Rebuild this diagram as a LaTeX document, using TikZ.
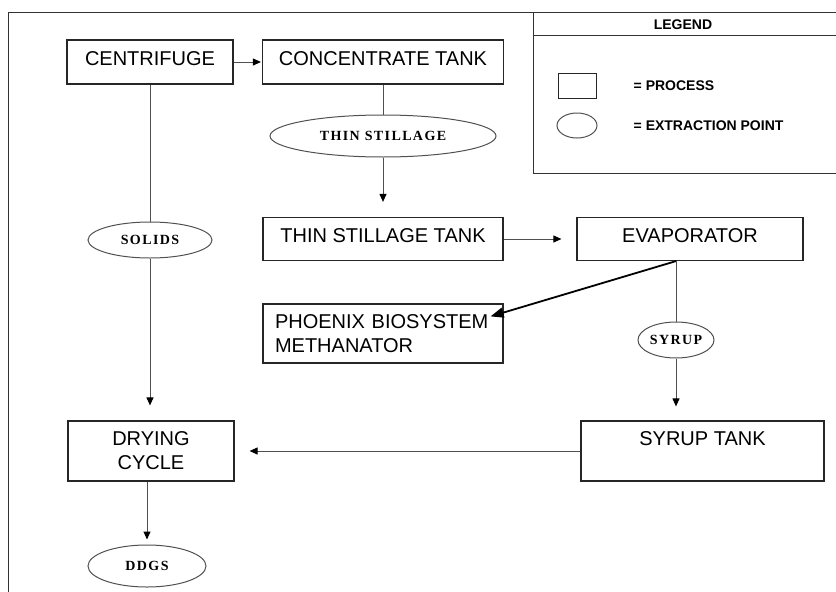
\documentclass[tikz,border=0pt]{standalone}
\usepackage{fontspec}
\setmainfont{Liberation Sans}
\newfontfamily\ellfont[LetterSpace=10]{Liberation Serif}
\usetikzlibrary{arrows.meta,positioning,shapes.geometric}
\definecolor{linegray}{RGB}{80,80,80}

\begin{document}
\begin{tikzpicture}[
    x=1pt, y=-1pt,
    process/.style={draw=black!85, line width=1.2pt, minimum width=166pt, minimum height=44pt, inner sep=0pt, font=\fontsize{20}{24}\selectfont, align=center},
    stage/.style={process, text depth=6pt},
    extract/.style={ellipse, draw=linegray, line width=1pt, inner sep=0pt, font=\ellfont\bfseries\fontsize{14}{16}\selectfont},
    flow/.style={draw=linegray, line width=1pt, -{Triangle[length=8pt,width=7pt,black]}, shorten >=15pt},
    link/.style={draw=linegray, line width=1pt},
    feed/.style={draw=black, line width=1.8pt, -{Triangle[length=13pt,width=10pt]}},
    frame/.style={draw=black!80, line width=1pt},
    legtext/.style={font=\bfseries\fontsize{14}{16}\selectfont, inner sep=0pt},
]
    \useasboundingbox (0,0) rectangle (836,592);
    \clip (0,0) rectangle (836,592);

    % outer frame and legend
    \draw[frame] (8,600) -- (8,12) -- (840,12);
    \draw[frame] (533,12) rectangle (840,173);
    \draw[frame] (533,35) -- (840,35);
    \node[legtext] (leghead) at (683,25) {LEGEND};
    \node[draw=black!85, line width=1pt, minimum width=38pt, minimum height=25pt, inner sep=0pt] (legproc) at (577,85.5) {};
    \node[ellipse, draw=linegray, line width=1pt, minimum width=40pt, minimum height=25pt, inner sep=0pt] (legext) at (577,125.5) {};
    \node[legtext, right=37pt of legproc] (legproctxt) {= PROCESS};
    \node[legtext, right=36pt of legext] (legexttxt) {= EXTRACTION POINT};

    % process boxes and extraction points
    \node[stage] (cent) at (150,62) {CENTRIFUGE};
    \node[stage, minimum width=241pt] (conc) at (383,62) {CONCENTRATE TANK};
    \node[extract, minimum width=226pt, minimum height=42pt] (thin) at (383,136) {THIN STILLAGE};
    \node[extract, minimum width=124pt, minimum height=36pt] (solids) at (150,240) {SOLIDS};
    \node[stage, minimum width=240pt, minimum height=43pt] (tst) at (383,239) {THIN STILLAGE TANK};
    \node[stage, minimum width=226pt, minimum height=43pt] (evap) at (690,239) {EVAPORATOR};
    \node[process, minimum width=240pt, minimum height=59pt, text width=216pt, align=left] (phx) at (383,333.5) {PHOENIX BIOSYSTEM\\METHANATOR};
    \node[extract, minimum width=76pt, minimum height=36pt] (syrup) at (676,340) {SYRUP};
    \node[process, minimum width=243pt, minimum height=60pt] (styk) at (702.5,451) {SYRUP TANK\\\mbox{}};
    \node[process, minimum height=60pt] (dry) at (151,451) {DRYING\\CYCLE};
    \node[extract, minimum width=118pt, minimum height=42pt] (ddgs) at (147,566) {DDGS};

    % connectors
    \draw[flow, shorten >=1pt] (cent) -- (conc);
    \draw[link] (conc) -- (thin);
    \draw[flow] (thin) -- (tst);
    \draw[flow] (tst) -- (evap);
    \draw[feed] (syrup.north |- evap.south) -- ([xshift=-13pt,yshift=-13pt]phx.north east);
    \draw[link] (syrup.north |- evap.south) -- (syrup);
    \draw[flow, shorten >=14pt] (syrup) -- (syrup |- styk.north);
    \draw[flow] (styk) -- (dry);
    \draw[link] (cent) -- (solids);
    \draw[flow] (solids.south) -- (solids.south |- dry.north);
    \draw[flow, shorten >=5pt] (dry.south -| ddgs) -- (ddgs);

\end{tikzpicture}
\end{document}
